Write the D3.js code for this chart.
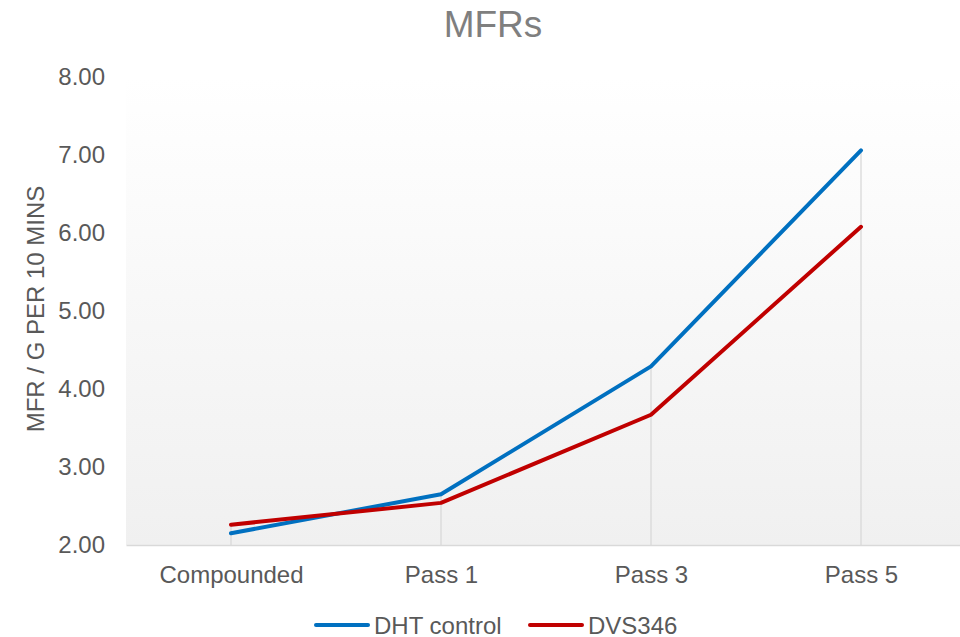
<!DOCTYPE html>
<html>
<head>
<meta charset="utf-8">
<script src="https://cdn.jsdelivr.net/npm/d3@7"></script>
<style>
  html, body { margin: 0; padding: 0; background: #ffffff; }
  svg { display: block; font-family: "Liberation Sans", Arial, sans-serif; }
</style>
</head>
<body>
<svg id="chart" width="960" height="637"></svg>
<script>
// Melt flow rate per processing stage
const categories = ["Compounded", "Pass 1", "Pass 3", "Pass 5"];
const dhtControl = [2.15, 2.65, 4.29, 7.06];
const dvs346 = [2.26, 2.54, 3.67, 6.08];
const seriesNames = ["DHT control", "DVS346"];
const yTicks = [2, 3, 4, 5, 6, 7, 8];

const series = [
  { name: seriesNames[0], values: dhtControl, color: "#0070C0" },
  { name: seriesNames[1], values: dvs346, color: "#C00000" }
];

const svg = d3.select("#chart");
const plot = { left: 126, right: 966, top: 77, bottom: 545 };

const x = d3.scalePoint()
  .domain(categories)
  .range([plot.left, plot.right])
  .padding(0.5);

const y = d3.scaleLinear()
  .domain([2, 8])
  .range([plot.bottom, plot.top]);

// Plot area background: soft vertical gradient
const defs = svg.append("defs");
const grad = defs.append("linearGradient")
  .attr("id", "plotBg").attr("x1", 0).attr("y1", 0).attr("x2", 0).attr("y2", 1);
grad.append("stop").attr("offset", "0%").attr("stop-color", "#ffffff");
grad.append("stop").attr("offset", "100%").attr("stop-color", "#f0f0f0");

svg.append("rect")
  .attr("x", plot.left).attr("y", plot.top)
  .attr("width", plot.right - plot.left).attr("height", plot.bottom - plot.top)
  .attr("fill", "url(#plotBg)");

// Drop lines from the axis up to the highest series value
svg.append("g").selectAll("line")
  .data(categories)
  .join("line")
  .attr("x1", d => x(d)).attr("x2", d => x(d))
  .attr("y1", y(2))
  .attr("y2", (d, i) => y(d3.max(series, s => s.values[i])))
  .attr("stroke", "#d9d9d9")
  .attr("stroke-width", 1.3);

// Y axis (labels only)
const yAxis = svg.append("g")
  .attr("transform", `translate(${plot.left},0)`)
  .call(d3.axisLeft(y).tickValues(yTicks).tickFormat(d3.format(".2f")).tickSize(0).tickPadding(21));
yAxis.select(".domain").remove();
yAxis.selectAll("text")
  .attr("fill", "#595959")
  .style("font-size", "24px");

// X axis
const xAxis = svg.append("g")
  .attr("transform", `translate(0,${plot.bottom})`)
  .call(d3.axisBottom(x).tickSize(0).tickPadding(21));
xAxis.select(".domain").attr("stroke", "#d9d9d9").attr("stroke-width", 1.5);
xAxis.selectAll("text")
  .attr("fill", "#595959")
  .style("font-size", "24px");

// Series lines
const line = d3.line()
  .x((d, i) => x(categories[i]))
  .y(d => y(d));

svg.append("g").selectAll("path")
  .data(series)
  .join("path")
  .attr("d", d => line(d.values))
  .attr("fill", "none")
  .attr("stroke", d => d.color)
  .attr("stroke-width", 4)
  .attr("stroke-linejoin", "round")
  .attr("stroke-linecap", "round");

// Title
svg.append("text")
  .attr("x", 493).attr("y", 37)
  .attr("text-anchor", "middle")
  .attr("fill", "#7f7f7f")
  .style("font-size", "37px")
  .text("MFRs");

// Y axis title
svg.append("text")
  .attr("transform", `translate(44,309) rotate(-90)`)
  .attr("text-anchor", "middle")
  .attr("fill", "#595959")
  .style("font-size", "24px")
  .text("MFR / G PER 10 MINS");

// Legend
const legendItems = [
  { x: 316, s: series[0] },
  { x: 530, s: series[1] }
];
const lg = svg.append("g").selectAll("g")
  .data(legendItems)
  .join("g")
  .attr("transform", d => `translate(${d.x},625)`);
lg.append("line")
  .attr("x1", 0).attr("x2", 52).attr("y1", 0).attr("y2", 0)
  .attr("stroke", d => d.s.color)
  .attr("stroke-width", 4)
  .attr("stroke-linecap", "round");
lg.append("text")
  .attr("x", 58).attr("y", 8.5)
  .attr("fill", "#595959")
  .style("font-size", "24px")
  .text(d => d.s.name);
</script>
</body>
</html>
